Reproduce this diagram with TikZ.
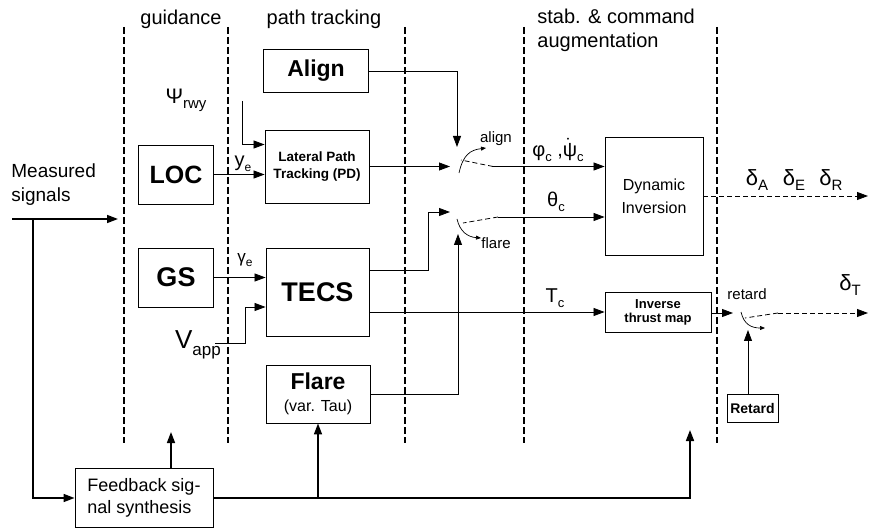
\documentclass[tikz,border=0pt]{standalone}
\usepackage{fontspec}
\setmainfont{Liberation Sans}
\usetikzlibrary{arrows.meta}
\newcommand{\fs}[2]{\fontsize{#1}{#2}\selectfont}
\newcommand{\lo}[2]{\raisebox{-0.25em}{\fs{#1}{#1}#2}}
\newcommand{\psidot}{\makebox[0pt][l]{\hspace{0.2em}\raisebox{0.78em}{\fs{7}{7}•}}ψ}

\begin{document}
\begin{tikzpicture}[x=1pt,y=-1pt,line width=0.8pt,>={Triangle[length=11pt,width=8pt]}]
\tikzset{blk/.style={draw,line width=0.9pt,inner sep=0pt,align=center},
  lbl/.style={inner sep=0pt},
  sig/.style={line width=0.8pt,->},
  fbk/.style={line width=1.6pt,->},
  sep/.style={line width=1.6pt,dash pattern=on 7pt off 3pt},
  blade/.style={line width=0.8pt,dash pattern=on 5pt off 3pt},
  turn/.style={line width=0.7pt,-{Triangle[length=5pt,width=4pt]}}}
\useasboundingbox (0,0) rectangle (873,529);
% ---------- stage separators and headings ----------
\foreach \x in {124,228,405,524,717}{ \draw[sep] (\x,27) -- (\x,443); }
\node[lbl,font=\fs{20}{24}] (hguid) at (181,19) {guidance};
\node[lbl,font=\fs{20}{24}] (hpath) at (324,19) {path tracking};
\node[lbl,font=\fs{20}{24},align=left,anchor=west] (hstab) at (537,30) {stab. \& command\\augmentation};
% ---------- blocks ----------
\node[blk,minimum width=75,minimum height=59,font=\fs{25}{25}\bfseries] (loc) at (176,174.5) {LOC};
\node[blk,minimum width=75,minimum height=59,font=\fs{27}{27}\bfseries] (gs) at (176,277.5) {GS};
\node[blk,minimum width=105,minimum height=43,font=\fs{23}{23}\bfseries] (align) at (316,71) {Align};
\node[blk,minimum width=104,minimum height=73,font=\fs{13.5}{17}\bfseries] (lat) at (317,166.5) {Lateral Path\\Tracking (PD)};
\node[blk,minimum width=103,minimum height=88,font=\fs{27}{27}\bfseries] (tecs) at (317.5,292) {TECS};
\node[blk,minimum width=104,minimum height=58,font=\fs{23}{22}\bfseries] (flare) at (318,394) {Flare\\{\fs{16}{16}\mdseries (var. Tau)}};
\node[blk,minimum width=98,minimum height=118,font=\fs{16}{23}] (dyn) at (654,196) {Dynamic\\Inversion};
\node[blk,minimum width=106,minimum height=40,font=\fs{13}{14}\bfseries] (itm) at (658,312) {Inverse\\thrust map};
\node[blk,minimum width=51,minimum height=28,font=\fs{14}{14}\bfseries] (ret) at (752.5,408) {Retard};
\node[blk,minimum width=138,minimum height=59,font=\fs{18}{22},align=left] (fb) at (144,498) {Feedback sig-\\nal synthesis};
% ---------- signal labels ----------
\node[lbl,font=\fs{19}{24},align=left,anchor=west] (meas) at (11,185) {Measured\\signals};
\node[lbl,font=\fs{21}{21}] (psi) at (186,100) {Ψ\lo{15}{rwy}};
\node[lbl,font=\fs{20}{20}] (ye) at (243,164) {y\lo{12}{e}};
\node[lbl,font=\fs{17}{17}] (ge) at (245,260) {γ\lo{12}{e}};
\node[lbl,font=\fs{26}{26}] (vapp) at (198,345) {V\lo{17}{app}};
\node[lbl,font=\fs{20}{20}] (phic) at (558,150) {φ\lo{13}{c} ,\psidot\lo{13}{c}};
\node[lbl,font=\fs{20}{20}] (thc) at (556,202) {θ\lo{13}{c}};
\node[lbl,font=\fs{20}{20}] (tc) at (555,298) {T\lo{13}{c}};
\node[lbl,font=\fs{15}{15}] (lalign) at (496,139) {align};
\node[lbl,font=\fs{15}{15}] (lflare) at (496,243) {flare};
\node[lbl,font=\fs{15}{15}] (lret) at (747,294) {retard};
\node[lbl,font=\fs{22}{22}] (dA) at (757,180) {δ\lo{15}{A}};
\node[lbl,font=\fs{22}{22}] (dE) at (794,180) {δ\lo{15}{E}};
\node[lbl,font=\fs{22}{22}] (dR) at (831,180) {δ\lo{15}{R}};
\node[lbl,font=\fs{22}{22}] (dT) at (850,285) {δ\lo{15}{T}};
% ---------- switch points ----------
\coordinate (ms-in) at (12,219);
\coordinate (ms-out) at (118,219);
\coordinate (psi-out) at (242,101);
\coordinate (vapp-out) at (215,343);
\coordinate (swa-in) at (450,166.5);
\coordinate (swa-top) at (457,147);
\coordinate (swa-out) at (493,166.5);
\coordinate (swf-in) at (450,212);
\coordinate (swf-bot) at (458,234);
\coordinate (swf-out) at (498,217);
\coordinate (swr-in) at (733,313);
\coordinate (swr-out) at (778,313);
\coordinate (outA) at (868,196);
\coordinate (outT) at (868,313);
\coordinate (gd-up) at (171,432);
\coordinate (sa-up) at (690,430);
% ---------- connectors ----------
\draw[fbk] (ms-in) -- (ms-out);
\draw[fbk] (33,219) |- (fb.west);
\draw[fbk] (fb.east) -| (sa-up);
\draw[fbk] (fb.north -| gd-up) -- (gd-up);
\draw[fbk] (flare.south |- fb.east) -- (flare.south);
\draw[sig] (psi-out) |- ([yshift=22pt]lat.west);
\draw[sig] (loc.east) -- (loc.east -| lat.west);
\draw[sig] (gs.east) -- (gs.east -| tecs.west);
\draw[sig] (vapp-out) -- (245,343) |- ([yshift=-15pt]tecs.west);
\draw[sig] (align.east) -| (swa-top);
\draw[sig] (lat.east) -- (swa-in);
\draw[sig] ([yshift=22pt]tecs.east) -| (428,212) -- (swf-in);
\draw[sig] (flare.east) -| (swf-bot);
\draw[sig] (tecs.east |- itm.west) -- (itm.west);
\draw[sig] (swa-out) -- (swa-out -| dyn.west);
\draw[sig] (swf-out) -- (swf-out -| dyn.west);
\draw[sig] (itm.east |- swr-in) -- (swr-in);
\draw[sig] (ret.north -| 748,0) -- (748,330);
\draw[blade,->] (dyn.east |- outA) -- (outA);
\draw[blade,->] (swr-out) -- (outT);
% ---------- switch blades ----------
\draw[blade] (swa-out) -- (461,160);
\draw[blade] (swf-out) -- (463,223);
\draw[blade] (swr-out) -- (745,318);
\draw[turn] (459,173) .. controls (463,155) and (470,150) .. (486,148);
\draw[turn] (457,219) .. controls (460,232) and (468,237) .. (481,238);
\draw[turn] (741,312) .. controls (744,325) and (752,328) .. (765,328);
\end{tikzpicture}
\end{document}
